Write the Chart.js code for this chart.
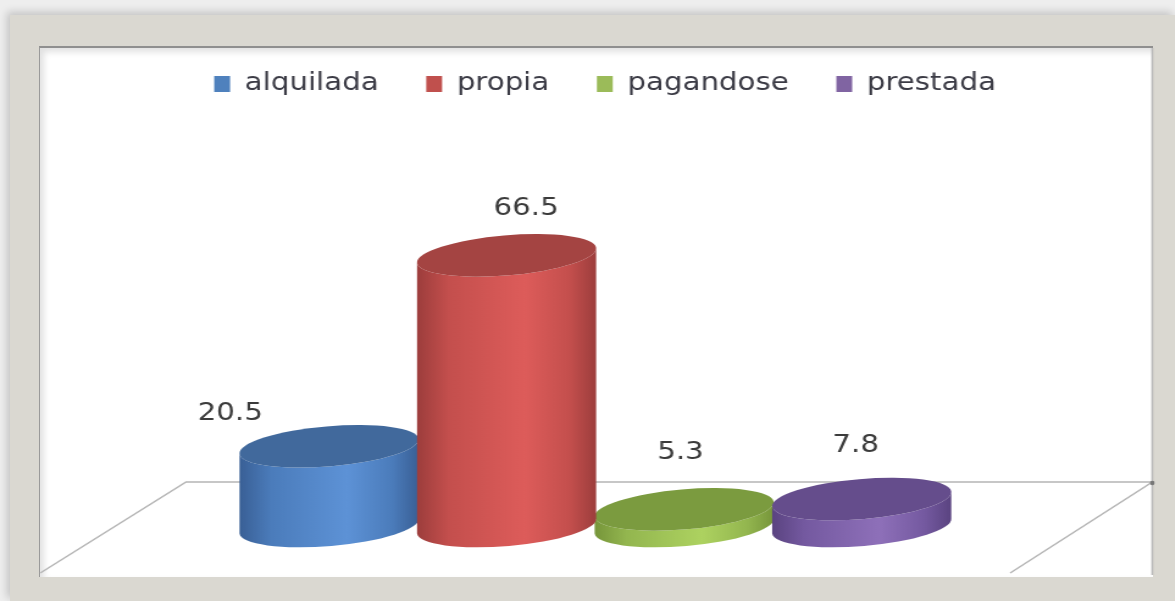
<!DOCTYPE html>
<html>
<head>
<meta charset="utf-8">
<script src="https://cdn.jsdelivr.net/npm/chart.js@4"></script>
<style>
html, body { margin: 0; padding: 0; width: 1175px; height: 601px; overflow: hidden; background: #eeeeee; }
#frame { position: absolute; left: 10px; top: 15px; width: 1165px; height: 586px; background: #dad8d1; box-shadow: -3px -3px 8px rgba(0,0,0,0.18); }
#panel { position: absolute; left: 39px; top: 46px; width: 1113px; height: 529px; background: #fff;
         border-top: 2px solid #8f8f8f; border-left: 1px solid #9a9a9a; box-shadow: inset 4px 4px 6px rgba(0,0,0,0.12); }
/* the original picture is stretched sideways, so the canvas is too */
canvas { position: absolute; left: 0; top: 0; transform: scaleX(1.22); transform-origin: 0 0; }
</style>
</head>
<body>
<div id="frame"></div>
<div id="panel"></div>
<canvas id="chart" width="963" height="601"></canvas>
<script>
// Data
const categories = [''];
const seriesNames = ['alquilada', 'propia', 'pagandose', 'prestada'];
const seriesValues = [20.5, 66.5, 5.3, 7.8];

// Look
const seriesColors = ['#4f81bd', '#c0504d', '#9bbb59', '#8064a2'];
const shades = [
    { edge: '#395f95', mid: '#4b7cbb', light: '#5d92d6', top: '#41699c' },
    { edge: '#9c3d3c', mid: '#c44f4d', light: '#dd5c5a', top: '#a44442' },
    { edge: '#76953a', mid: '#93b64f', light: '#add260', top: '#7b9b3f' },
    { edge: '#5a4380', mid: '#7459a0', light: '#8e70b9', top: '#654d8c' }
];
const labelShift = [[-81, 12], [16, -2], [-3, -12], [-5, -8]];
const drawOrder = [0, 2, 1, 3];

function cylinder(ctx, cx, top, base, rx, ry, rot, s) {
    const c = Math.cos(rot), sn = Math.sin(rot);
    const g = ctx.createLinearGradient(cx - rx, 0, cx + rx, 0);
    g.addColorStop(0, s.edge);
    g.addColorStop(0.18, s.mid);
    g.addColorStop(0.6, s.light);
    g.addColorStop(0.85, s.mid);
    g.addColorStop(1, s.edge);
    ctx.beginPath();
    ctx.ellipse(cx, base, rx, ry, rot, 0, Math.PI);
    ctx.lineTo(cx - rx * c, top - rx * sn);
    ctx.ellipse(cx, top, rx, ry, rot, Math.PI, 0, true);
    ctx.closePath();
    ctx.fillStyle = g;
    ctx.fill();
    // top face
    ctx.beginPath();
    ctx.ellipse(cx, top, rx, ry, rot, 0, Math.PI * 2);
    ctx.fillStyle = s.top;
    ctx.fill();
}

const cylinders = {
    id: 'cylinders',
    afterLayout(chart) {
        // legend sits a little right of the plot centre in the original
        chart.legend.left += 8;
        chart.legend.right += 8;
    },
    beforeDatasetsDraw(chart) {
        const ctx = chart.ctx;
        const base = chart.scales.y.getBasePixel();
        const back = base - 44, front = base + 47;

        // floor and wall lines
        ctx.save();
        ctx.strokeStyle = '#b5b5b5';
        ctx.lineWidth = 1.5;
        ctx.beginPath();
        ctx.moveTo(33, front);
        ctx.lineTo(152.5, back);
        ctx.lineTo(944.5, back);
        ctx.lineTo(828, front);
        ctx.moveTo(944.5, 48);
        ctx.lineTo(944.5, front + 2);
        ctx.stroke();
        ctx.fillStyle = '#777';
        ctx.beginPath();
        ctx.ellipse(944.5, back + 1, 1.8, 2.2, 0, 0, Math.PI * 2);
        ctx.fill();
        ctx.restore();

        ctx.save();
        drawOrder.forEach(i => {
            const bar = chart.getDatasetMeta(i).data[0];
            cylinder(ctx, bar.x, bar.y, base, bar.width / 2 + 1, 20, -0.103, shades[i]);
        });
        ctx.restore();

        // value labels
        ctx.save();
        ctx.font = '24px "DejaVu Sans"';
        ctx.fillStyle = '#3b3b3b';
        ctx.textAlign = 'center';
        ctx.textBaseline = 'middle';
        seriesValues.forEach((v, i) => {
            const bar = chart.getDatasetMeta(i).data[0];
            ctx.fillText(String(v), bar.x + labelShift[i][0], bar.y - 45 + labelShift[i][1]);
        });
        ctx.restore();
        return false;
    }
};

new Chart(document.getElementById('chart'), {
    type: 'bar',
    data: {
        labels: categories,
        datasets: seriesNames.map((name, i) => ({
            label: name,
            data: [seriesValues[i]],
            backgroundColor: seriesColors[i],
            borderWidth: 0
        }))
    },
    options: {
        responsive: false,
        animation: false,
        devicePixelRatio: 1,
        categoryPercentage: 0.622,
        barPercentage: 1,
        layout: {
            padding: { top: 33, left: 20, right: 7, bottom: 75 }
        },
        scales: {
            x: { display: false },
            y: { display: false, min: 1.3, max: 102.5 }
        },
        plugins: {
            legend: {
                position: 'top',
                labels: {
                    boxWidth: 13,
                    boxHeight: 16,
                    padding: 39,
                    color: '#3b3b45',
                    font: { family: 'DejaVu Sans', size: 24 }
                }
            },
            tooltip: { enabled: false }
        }
    },
    plugins: [cylinders]
});
</script>
</body>
</html>
